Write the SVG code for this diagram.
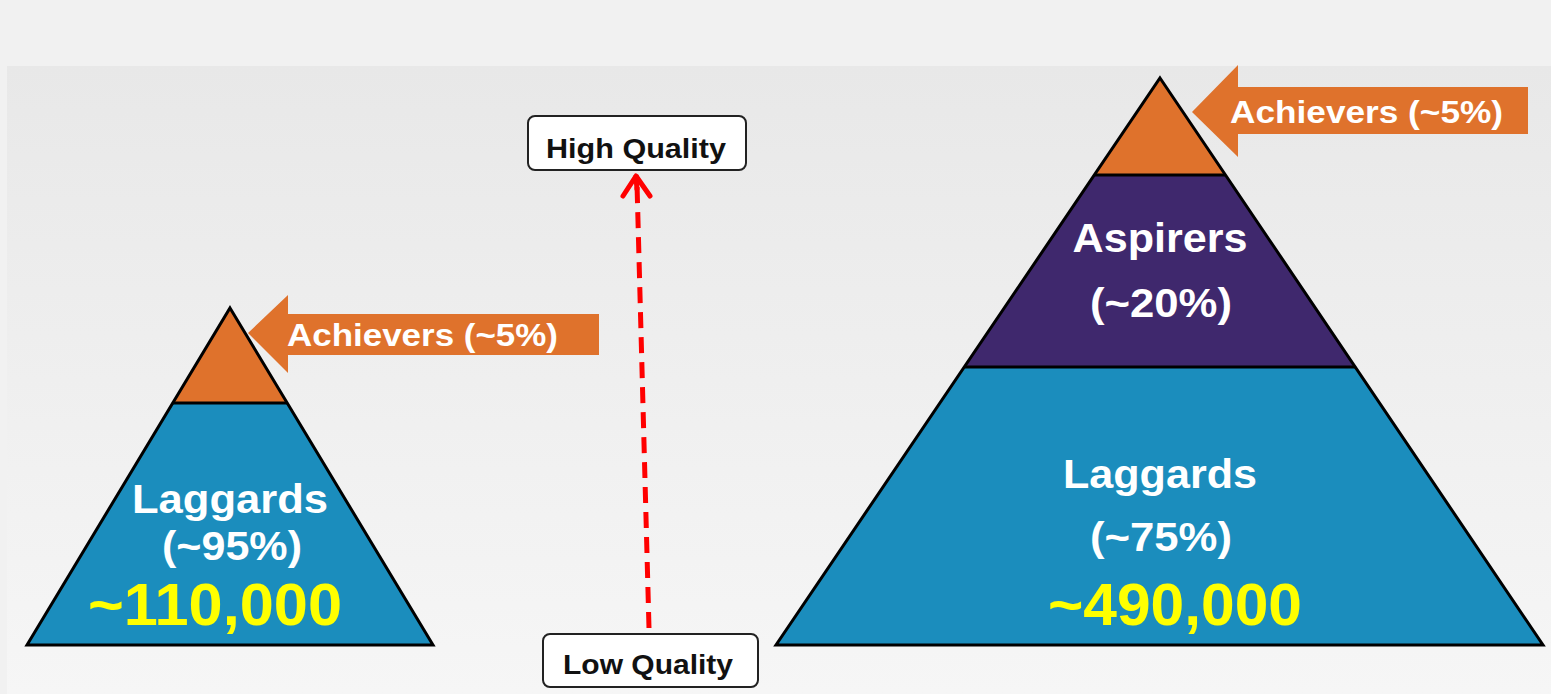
<svg xmlns="http://www.w3.org/2000/svg" width="1551" height="694" viewBox="0 0 1551 694">
  <defs>
    <linearGradient id="panelFill" x1="0" y1="0" x2="0" y2="1">
      <stop offset="0" stop-color="#e8e8e8"/>
      <stop offset="1" stop-color="#f6f6f6"/>
    </linearGradient>
    <style>
      .edge { stroke: #000; stroke-width: 3; stroke-linejoin: miter; }
      .divider { stroke: #000; stroke-width: 3; }
      .orange { fill: #df722c; }
      .purple { fill: #3f286d; }
      .blue { fill: #1b8dbd; }
      .lbl { font-family: "Liberation Sans", Arial, sans-serif; font-weight: bold; fill: #ffffff; text-anchor: middle; }
      .count { font-family: "Liberation Sans", Arial, sans-serif; font-weight: bold; fill: #ffff00; text-anchor: middle; font-size: 59px; }
      .tag { font-family: "Liberation Sans", Arial, sans-serif; font-weight: bold; fill: #ffffff; font-size: 31px; }
      .qbox { fill: #ffffff; stroke: #222; stroke-width: 2; }
      .qtxt { font-family: "Liberation Sans", Arial, sans-serif; font-weight: bold; fill: #111; font-size: 28px; text-anchor: middle; }
      .dash { stroke: #ff0000; stroke-width: 5; stroke-dasharray: 16 9; fill: none; }
      .head { fill: none; stroke: #ff0000; stroke-width: 5; stroke-linecap: round; stroke-linejoin: round; }
    </style>
  </defs>

  <!-- backdrop -->
  <rect x="0" y="0" width="1551" height="694" fill="#f1f1f1"/>
  <rect x="7" y="66" width="1544" height="628" fill="url(#panelFill)"/>

  <!-- small pyramid -->
  <g id="small-pyramid">
    <polygon class="blue" points="173,403 287,403 433,645 27,645"/>
    <polygon class="orange" points="230,308 287,403 173,403"/>
    <line class="divider" x1="173" y1="403" x2="287" y2="403"/>
    <polygon class="edge" fill="none" points="230,308 433,645 27,645"/>
    <text class="lbl" x="230" y="513" font-size="41" textLength="196" lengthAdjust="spacingAndGlyphs">Laggards</text>
    <text class="lbl" x="232" y="560" font-size="41" textLength="140" lengthAdjust="spacingAndGlyphs">(~95%)</text>
    <text class="count" x="215" y="625" textLength="254" lengthAdjust="spacingAndGlyphs">~110,000</text>
  </g>

  <!-- small pyramid callout -->
  <g id="small-achievers">
    <polygon class="orange" points="248,333 288,295 288,314 599,314 599,355 288,355 288,373"/>
    <text class="tag" x="287" y="346" textLength="271" lengthAdjust="spacingAndGlyphs">Achievers (~5%)</text>
  </g>

  <!-- large pyramid -->
  <g id="large-pyramid">
    <polygon class="blue" points="965,367 1355,367 1543,645 776,645"/>
    <polygon class="purple" points="1094,175 1226,175 1355,367 965,367"/>
    <polygon class="orange" points="1160,78 1226,175 1094,175"/>
    <line class="divider" x1="1094" y1="175" x2="1226" y2="175"/>
    <line class="divider" x1="965" y1="367" x2="1355" y2="367"/>
    <polygon class="edge" fill="none" points="1160,78 1543,645 776,645"/>
    <text class="lbl" x="1160" y="252" font-size="41" textLength="175" lengthAdjust="spacingAndGlyphs">Aspirers</text>
    <text class="lbl" x="1161" y="317" font-size="41" textLength="142" lengthAdjust="spacingAndGlyphs">(~20%)</text>
    <text class="lbl" x="1160" y="488" font-size="41" textLength="194" lengthAdjust="spacingAndGlyphs">Laggards</text>
    <text class="lbl" x="1161" y="551" font-size="41" textLength="142" lengthAdjust="spacingAndGlyphs">(~75%)</text>
    <text class="count" x="1175" y="625" textLength="254" lengthAdjust="spacingAndGlyphs">~490,000</text>
  </g>

  <!-- large pyramid callout -->
  <g id="large-achievers">
    <polygon class="orange" points="1192,112 1238,65 1238,87 1528,87 1528,134 1238,134 1238,157"/>
    <text class="tag" x="1230" y="123" textLength="273" lengthAdjust="spacingAndGlyphs">Achievers (~5%)</text>
  </g>

  <!-- quality scale ends -->
  <g id="high-quality">
    <rect class="qbox" x="528" y="116" width="218" height="54" rx="7"/>
    <text class="qtxt" x="636" y="158" textLength="180" lengthAdjust="spacingAndGlyphs">High Quality</text>
  </g>
  <g id="low-quality">
    <rect class="qbox" x="543" y="634" width="215" height="53" rx="7"/>
    <text class="qtxt" x="648" y="674" textLength="170" lengthAdjust="spacingAndGlyphs">Low Quality</text>
  </g>

  <!-- connectors -->
  <g id="connectors">
    <path class="dash" d="M649 628 L637 184"/>
    <path class="head" d="M623 196 L636 176 L650 196"/>
    <path d="M636 175 L637 190" stroke="#ff0000" stroke-width="5"/>
  </g>
</svg>
